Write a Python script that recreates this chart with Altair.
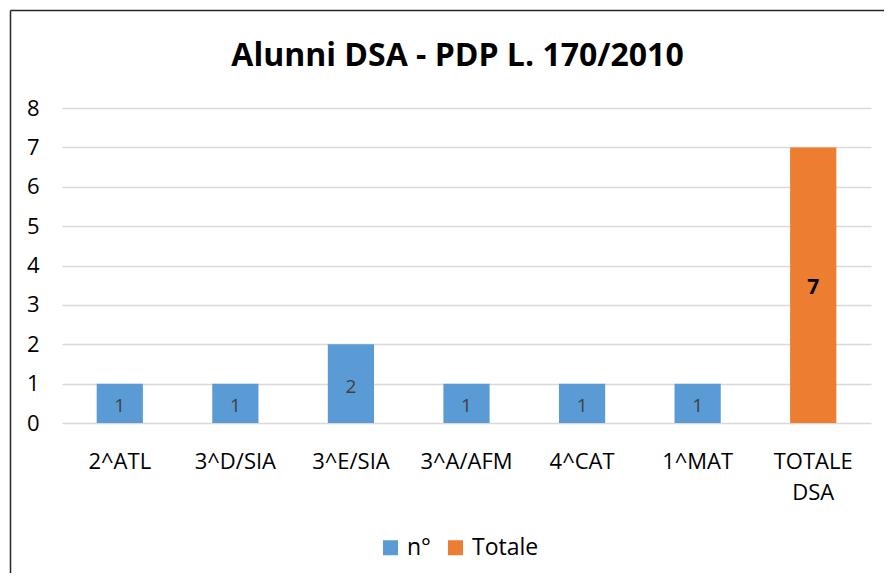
import altair as alt
import pandas as pd

categories = ["2^ATL", "3^D/SIA", "3^E/SIA", "3^A/AFM", "4^CAT", "1^MAT", "TOTALE DSA"]
values = [1, 1, 2, 1, 1, 1, 7]
series = ["n°", "n°", "n°", "n°", "n°", "n°", "Totale"]

df = pd.DataFrame({"classe": categories, "valore": values, "serie": series})

FONT = "Open Sans"

base = alt.Chart(df).transform_calculate(mid="datum.valore / 2")

x_axis = alt.Axis(
    title=None,
    labelAngle=0,
    labelFontSize=22,
    labelColor="#000000",
    labelFont=FONT,
    labelPadding=28,
    labelLineHeight=31,
    labelExpr="split(datum.label, ' ')",
    ticks=False,
    tickSize=0,
    domain=False,
    grid=False,
)
y_axis = alt.Axis(
    title=None,
    values=[0, 1, 2, 3, 4, 5, 6, 7, 8],
    labelFontSize=22,
    labelColor="#000000",
    labelFont=FONT,
    labelPadding=23,
    ticks=False,
    tickSize=0,
    domain=False,
    grid=True,
    gridColor="#D9D9D9",
    gridWidth=1.3,
)
x_scale = alt.Scale(paddingInner=0.6, paddingOuter=0.3)
y_scale = alt.Scale(domain=[0, 8])

bars = base.mark_bar().encode(
    x=alt.X("classe:N", sort=categories, scale=x_scale, axis=x_axis),
    y=alt.Y("valore:Q", scale=y_scale, axis=y_axis),
    color=alt.Color(
        "serie:N",
        scale=alt.Scale(domain=["n°", "Totale"], range=["#5B9BD5", "#ED7D31"]),
        legend=alt.Legend(
            title=None,
            orient="none",
            direction="horizontal",
            legendX=317,
            legendY=428,
            symbolType="square",
            symbolSize=225,
            symbolStrokeWidth=0,
            labelFontSize=23,
            labelFont=FONT,
            labelColor="#000000",
            columnPadding=13,
            labelOffset=5,
        ),
    ),
)

labels_n = base.transform_filter("datum.serie == 'n°'").mark_text(
    fontSize=19, font=FONT, color="#404040", baseline="middle", dy=3
).encode(
    x=alt.X("classe:N", sort=categories, scale=x_scale, axis=x_axis),
    y=alt.Y("mid:Q", scale=y_scale, axis=y_axis),
    text=alt.Text("valore:Q"),
)

labels_t = base.transform_filter("datum.serie == 'Totale'").mark_text(
    fontSize=21, font=FONT, fontWeight="bold", color="#000000", baseline="middle", dy=3
).encode(
    x=alt.X("classe:N", sort=categories, scale=x_scale, axis=x_axis),
    y=alt.Y("mid:Q", scale=y_scale, axis=y_axis),
    text=alt.Text("valore:Q"),
)

border_top = alt.Chart(alt.Data(values=[{}])).mark_rule(
    color="#262626", strokeWidth=1.5
).encode(x=alt.value(-51.5), x2=alt.value(840), y=alt.value(-97.5))
border_left = alt.Chart(alt.Data(values=[{}])).mark_rule(
    color="#262626", strokeWidth=1.5
).encode(x=alt.value(-51.5), y=alt.value(-97.5), y2=alt.value(480))

chart = alt.layer(bars, labels_n, labels_t, border_top, border_left).properties(
    width=809,
    height=315,
    autosize=alt.AutoSizeParams(type="none"),
    padding={"left": 54, "top": 100, "right": 13, "bottom": 150},
    title=alt.TitleParams(
        "Alunni DSA - PDP L. 170/2010",
        font=FONT,
        fontSize=32,
        fontWeight="bold",
        color="#000000",
        anchor="middle",
        baseline="alphabetic",
        offset=0,
        dy=88,
        dx=-9,
    ),
).configure_view(stroke=None)

chart.save("out.html", embed_options={"renderer": "svg", "actions": False})
